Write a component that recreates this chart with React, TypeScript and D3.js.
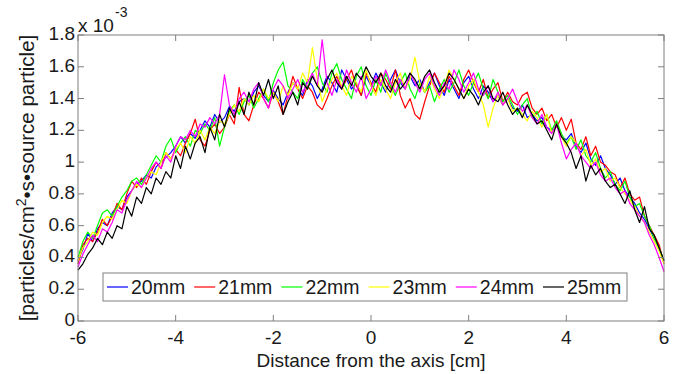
import * as d3 from 'd3';

// sampling grid of the profiles (cm)
const X_START = -6;
const X_STEP = 0.1;

// flux values, in units of 1e-3 particles/cm2/s/source particle
const S20 = [
  0.38, 0.45, 0.55, 0.5, 0.58, 0.62, 0.6, 0.68, 0.72, 0.7,
  0.78, 0.82, 0.86, 0.88, 0.92, 0.9, 0.97, 1.0, 1.03, 1.06,
  1.1, 1.16, 1.12, 1.18, 1.15, 1.2, 1.26, 1.22, 1.3, 1.25,
  1.28, 1.35, 1.32, 1.38, 1.4, 1.36, 1.44, 1.48, 1.42, 1.38,
  1.45, 1.4, 1.36, 1.44, 1.5, 1.46, 1.42, 1.52, 1.48, 1.4,
  1.46, 1.54, 1.5, 1.44, 1.58, 1.52, 1.46, 1.5, 1.42, 1.54,
  1.48, 1.56, 1.5, 1.44, 1.52, 1.58, 1.5, 1.46, 1.54, 1.48,
  1.52, 1.44, 1.5, 1.56, 1.48, 1.42, 1.52, 1.46, 1.4, 1.5,
  1.54, 1.46, 1.4, 1.48, 1.44, 1.38, 1.42, 1.36, 1.4, 1.34,
  1.32, 1.36, 1.28, 1.3, 1.26, 1.28, 1.22, 1.2, 1.24, 1.16,
  1.14, 1.18, 1.1, 1.06, 1.12, 1.02, 0.98, 1.04, 0.96, 0.92,
  0.86, 0.9, 0.82, 0.78, 0.74, 0.68, 0.64, 0.58, 0.52, 0.46,
  0.38,
];
const S21 = [
  0.36, 0.48, 0.52, 0.5, 0.56, 0.64, 0.6, 0.66, 0.74, 0.7,
  0.8, 0.88, 0.84, 0.9, 0.86, 0.94, 1.0, 0.96, 1.06, 1.02,
  1.08, 1.04, 1.12, 1.18, 1.27, 1.14, 1.1, 1.2, 1.24, 1.18,
  1.22, 1.3, 1.24, 1.47, 1.3, 1.26, 1.36, 1.44, 1.4, 1.34,
  1.44, 1.38, 1.3, 1.42, 1.54, 1.46, 1.4, 1.48, 1.44, 1.36,
  1.33, 1.4, 1.48, 1.54, 1.46, 1.52, 1.58, 1.48, 1.42, 1.56,
  1.5, 1.44, 1.56, 1.52, 1.46, 1.58, 1.42, 1.34, 1.4, 1.3,
  1.27, 1.38, 1.48, 1.56, 1.5, 1.44, 1.54, 1.48, 1.42, 1.52,
  1.58, 1.5, 1.44, 1.52, 1.4, 1.46, 1.5, 1.38, 1.44, 1.38,
  1.36, 1.42, 1.44, 1.34, 1.3, 1.34, 1.26, 1.3, 1.22, 1.28,
  1.2, 1.27, 1.12, 1.08, 1.16, 1.04, 1.1, 1.0, 0.98, 0.94,
  0.92, 0.84, 0.9, 0.8, 0.76, 0.78, 0.66, 0.6, 0.54, 0.48,
  0.36,
];
const S22 = [
  0.4, 0.5, 0.56, 0.52, 0.6, 0.68, 0.7, 0.66, 0.72, 0.78,
  0.82, 0.88, 0.9, 0.86, 0.92, 0.98, 1.04, 1.0, 1.1, 1.15,
  1.06, 1.12, 1.16, 1.1, 1.2, 1.18, 1.24, 1.2, 1.28, 1.1,
  1.22, 1.32, 1.36, 1.3, 1.38, 1.42, 1.34, 1.4, 1.46, 1.38,
  1.5, 1.58, 1.63, 1.48, 1.44, 1.4, 1.52, 1.46, 1.56, 1.6,
  1.5, 1.44, 1.56, 1.62, 1.52, 1.46, 1.4, 1.54, 1.6, 1.48,
  1.42, 1.52, 1.44, 1.56, 1.48, 1.42, 1.5, 1.56, 1.46, 1.4,
  1.5, 1.44, 1.48, 1.38, 1.46, 1.52, 1.44, 1.5, 1.58, 1.48,
  1.42, 1.5, 1.56, 1.46, 1.4, 1.52, 1.44, 1.38, 1.42, 1.36,
  1.3, 1.36, 1.4, 1.28, 1.32, 1.24, 1.3, 1.2, 1.26, 1.18,
  1.12, 1.16, 1.08, 1.14, 1.04, 1.0, 1.06, 0.96, 0.9, 0.94,
  0.86, 0.82, 0.88, 0.78, 0.72, 0.74, 0.66, 0.6, 0.52, 0.46,
  0.38,
];
const S23 = [
  0.38, 0.46, 0.5, 0.56, 0.54, 0.62, 0.66, 0.64, 0.7, 0.76,
  0.74, 0.82, 0.86, 0.84, 0.9, 0.94, 0.92, 1.0, 1.06, 1.02,
  1.08, 1.12, 1.06, 1.16, 1.12, 1.2, 1.14, 1.22, 1.18, 1.26,
  1.24, 1.3, 1.36, 1.32, 1.4, 1.36, 1.42, 1.38, 1.46, 1.4,
  1.44, 1.38, 1.48, 1.42, 1.5, 1.46, 1.56, 1.5, 1.72, 1.52,
  1.38, 1.46, 1.52, 1.56, 1.48, 1.42, 1.54, 1.5, 1.44, 1.58,
  1.48, 1.42, 1.52, 1.46, 1.4, 1.5, 1.56, 1.46, 1.52, 1.66,
  1.5, 1.44, 1.54, 1.46, 1.4, 1.48, 1.58, 1.52, 1.46, 1.4,
  1.48, 1.52, 1.44, 1.36, 1.22, 1.34, 1.42, 1.36, 1.4, 1.32,
  1.34, 1.3, 1.26, 1.32, 1.28, 1.22, 1.3, 1.18, 1.24, 1.16,
  1.1, 1.16, 1.12, 1.04, 1.08, 0.98, 1.02, 0.94, 0.96, 0.88,
  0.9, 0.84, 0.8, 0.76, 0.72, 0.66, 0.62, 0.56, 0.5, 0.44,
  0.36,
];
const S24 = [
  0.34, 0.42, 0.48, 0.54, 0.5, 0.58, 0.56, 0.62, 0.7, 0.68,
  0.76, 0.82, 0.88, 0.84, 0.9, 0.96, 1.0, 0.96, 1.04, 1.0,
  1.1, 1.16, 1.14, 1.2, 1.16, 1.24, 1.22, 1.28, 1.24, 1.3,
  1.55, 1.36, 1.3, 1.4, 1.44, 1.38, 1.46, 1.5, 1.4, 1.34,
  1.46, 1.52, 1.48, 1.4, 1.46, 1.52, 1.44, 1.5, 1.56, 1.48,
  1.77, 1.5, 1.42, 1.52, 1.46, 1.58, 1.5, 1.44, 1.54, 1.4,
  1.46, 1.54, 1.48, 1.58, 1.5, 1.44, 1.52, 1.46, 1.56, 1.5,
  1.44, 1.52, 1.56, 1.48, 1.42, 1.5, 1.46, 1.58, 1.52, 1.44,
  1.5, 1.56, 1.46, 1.42, 1.48, 1.38, 1.44, 1.36, 1.4, 1.46,
  1.38, 1.32, 1.36, 1.28, 1.24, 1.3, 1.22, 1.18, 1.24, 1.12,
  1.02, 1.08, 1.12, 1.04, 1.0, 0.96, 1.0, 0.92, 0.88, 0.9,
  0.84, 0.8, 0.82, 0.74, 0.7, 0.66, 0.62, 0.54, 0.48, 0.4,
  0.31,
];
const S25 = [
  0.32, 0.36, 0.42, 0.46, 0.52, 0.48, 0.56, 0.52, 0.6, 0.58,
  0.72, 0.66, 0.78, 0.74, 0.84, 0.8, 0.9, 0.86, 0.94, 0.9,
  1.04, 0.96, 1.1, 1.02, 1.12, 1.16, 1.06, 1.22, 1.14, 1.3,
  1.22, 1.34, 1.28, 1.38, 1.3, 1.44, 1.36, 1.5, 1.42, 1.52,
  1.4, 1.48, 1.3, 1.38, 1.44, 1.36, 1.5, 1.46, 1.54, 1.48,
  1.44, 1.52, 1.58, 1.5, 1.46, 1.54, 1.48, 1.56, 1.52, 1.6,
  1.54, 1.5, 1.56, 1.48, 1.44, 1.52, 1.46, 1.5, 1.56, 1.52,
  1.46, 1.54, 1.58, 1.5, 1.44, 1.48, 1.56, 1.52, 1.46, 1.4,
  1.46, 1.42, 1.36, 1.44, 1.48, 1.4, 1.38, 1.44, 1.36, 1.3,
  1.34, 1.28, 1.36, 1.3, 1.24, 1.26, 1.2, 1.14, 1.24, 1.16,
  1.12, 1.06, 0.96, 1.04, 0.88, 0.98, 0.92, 0.96, 0.88, 0.84,
  0.86, 0.8, 0.74, 0.82, 0.7, 0.62, 0.72, 0.58, 0.54, 0.46,
  0.38,
];

const SERIES = [S20, S21, S22, S23, S24, S25];
const SERIES_NAMES = ['20mm', '21mm', '22mm', '23mm', '24mm', '25mm'];
const SERIES_COLORS = ['#0000ff', '#ff0000', '#00ff00', '#ffff00', '#ff00ff', '#000000'];

const X_TICKS = [-6, -4, -2, 0, 2, 4, 6];
const Y_TICKS = [0, 0.2, 0.4, 0.6, 0.8, 1, 1.2, 1.4, 1.6, 1.8];

const W = 681;
const H = 374;
const M = { left: 78, right: 664, top: 35, bottom: 321 };
const FONT = '"Liberation Sans", Arial, sans-serif';
const AXIS = '#7f7f7f';
const TICK = 6;

export default function App() {
  const x = d3.scaleLinear().domain([-6, 6]).range([M.left, M.right]);
  const y = d3.scaleLinear().domain([0, 1.8]).range([M.bottom, M.top]);

  const line = d3
    .line<number>()
    .x((_, i) => x(X_START + i * X_STEP))
    .y((d) => y(d));

  const legendLeft = 103;
  const legendTop = 273;
  const legendRight = 627;
  const legendBottom = 301;
  const entry = d3
    .scalePoint<string>()
    .domain(SERIES_NAMES)
    .range([131, 567]);

  return (
    <svg
      width={W}
      height={H}
      style={{ position: 'absolute', left: 0, top: 0, background: '#fff' }}
      fontFamily={FONT}
    >
      <rect x={0} y={0} width={W} height={H} fill="#fff" />

      {/* data */}
      <g fill="none" strokeWidth={1.2} strokeLinejoin="round">
        {SERIES.map((s, i) => (
          <path key={SERIES_NAMES[i]} d={line(s) ?? ''} stroke={SERIES_COLORS[i]} />
        ))}
      </g>

      {/* box */}
      <rect
        x={M.left}
        y={M.top}
        width={M.right - M.left}
        height={M.bottom - M.top}
        fill="none"
        stroke={AXIS}
        strokeWidth={1}
      />

      <g stroke={AXIS}>
        {X_TICKS.map((t) => (
          <g key={t}>
            <line x1={x(t)} x2={x(t)} y1={M.bottom} y2={M.bottom - TICK} />
            <line x1={x(t)} x2={x(t)} y1={M.top} y2={M.top + TICK} />
          </g>
        ))}
        {Y_TICKS.map((t) => (
          <g key={t}>
            <line x1={M.left} x2={M.left + TICK} y1={y(t)} y2={y(t)} />
            <line x1={M.right} x2={M.right - TICK} y1={y(t)} y2={y(t)} />
          </g>
        ))}
      </g>

      <g fontSize={19} fill="#1a1a1a">
        {X_TICKS.map((t) => (
          <text key={t} x={x(t)} y={344} textAnchor="middle">
            {t}
          </text>
        ))}
        {Y_TICKS.map((t) => (
          <text key={t} x={M.left - 3} y={y(t) + 5} textAnchor="end">
            {d3.format('~g')(t)}
          </text>
        ))}
        <text x={M.left} y={32}>
          x 10
        </text>
        <text x={115} y={17} fontSize={14}>
          -3
        </text>
        <text x={(M.left + M.right) / 2} y={367} textAnchor="middle">
          Distance from the axis [cm]
        </text>
        <text
          transform={`translate(34,${(M.top + M.bottom) / 2}) rotate(-90)`}
          textAnchor="middle"
          fontSize={20.5}
        >
          [particles/cm
          <tspan dy={-8} fontSize={14}>
            2
          </tspan>
          <tspan dy={8}>•s•source particle]</tspan>
        </text>
      </g>

      {/* legend */}
      <rect
        x={legendLeft}
        y={legendTop}
        width={legendRight - legendLeft}
        height={legendBottom - legendTop}
        fill="#fff"
        stroke={AXIS}
      />
      <g fontSize={19.5} fill="#1a1a1a">
        {SERIES_NAMES.map((n, i) => {
          const tx = entry(n) ?? 0;
          const cy = (legendTop + legendBottom) / 2;
          return (
            <g key={n}>
              <line
                x1={tx - 24}
                x2={tx - 3}
                y1={cy}
                y2={cy}
                stroke={SERIES_COLORS[i]}
                strokeWidth={1.2}
              />
              <text x={tx} y={cy + 7}>
                {n}
              </text>
            </g>
          );
        })}
      </g>
    </svg>
  );
}
